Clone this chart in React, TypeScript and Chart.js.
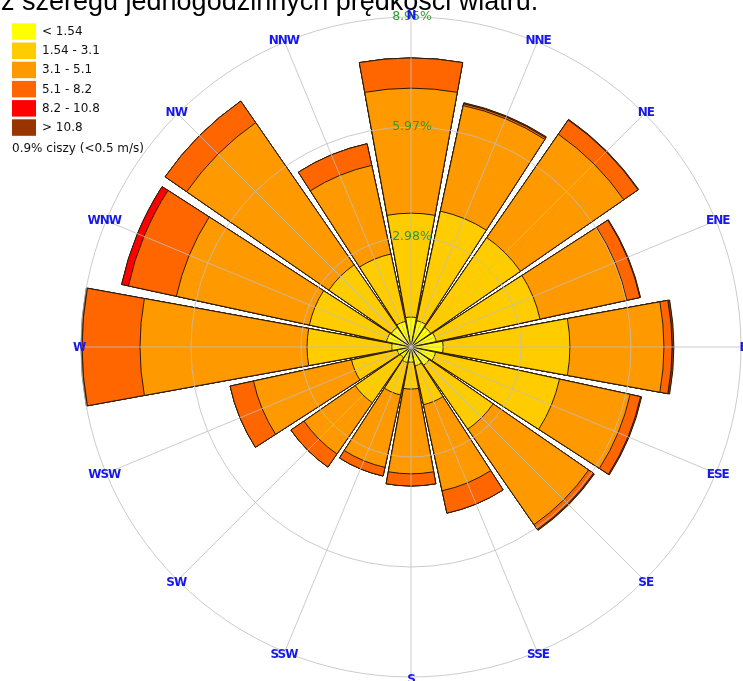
import { useEffect, useRef } from "react";
import { Chart, registerables } from "chart.js";

Chart.register(...registerables);

const TITLE = "z szeregu jednogodzinnych prędkości wiatru.";
const DIRECTIONS = ["N", "NNE", "NE", "ENE", "E", "ESE", "SE", "SSE", "S", "SSW", "SW", "WSW", "W", "WNW", "NW", "NNW"];
const SPEED_CLASSES = ["< 1.54", "1.54 - 3.1", "3.1 - 5.1", "5.1 - 8.2", "8.2 - 10.8", "> 10.8"];
const CLASS_COLORS = ["#FFFF00", "#FFCC00", "#FF9900", "#FF6600", "#FF0000", "#993300"];

// frequency (%) per direction, one array per wind speed class (m/s)
const FREQ_LT_154 = [0.81, 0.73, 0.65, 0.70, 0.87, 0.68, 0.60, 0.52, 0.41, 0.43, 0.35, 0.38, 0.52, 0.68, 0.65, 0.71];
const FREQ_154_31 = [2.82, 3.04, 2.96, 2.88, 3.44, 3.44, 2.11, 1.08, 0.73, 0.90, 1.49, 1.27, 2.30, 2.14, 2.06, 1.87];
const FREQ_31_51 = [3.39, 2.93, 3.41, 2.41, 2.55, 1.96, 3.15, 2.39, 2.30, 2.01, 1.69, 2.72, 4.53, 3.69, 4.69, 2.46];
const FREQ_51_82 = [0.82, 0.05, 0.47, 0.36, 0.22, 0.29, 0.16, 0.62, 0.33, 0.24, 0.43, 0.65, 1.57, 1.33, 0.71, 0.60];
const FREQ_82_108 = [0, 0, 0, 0, 0, 0, 0, 0, 0, 0, 0, 0, 0, 0.19, 0, 0];
const FREQ_GT_108 = [0, 0.03, 0.02, 0.02, 0.05, 0.03, 0.03, 0, 0, 0, 0, 0, 0.03, 0, 0, 0];

const CALM_TEXT = "0.9% ciszy (<0.5 m/s)";
const RING_VALUES = [2.9833, 5.9667, 8.95];
const RING_LABELS = ["2.98%", "5.97%", "8.95%"];
const R_MAX = 8.95;

const WEDGE_DEG = 20.6;
const GAP_DEG = 22.5 - WEDGE_DEG;

const CLASSES = [FREQ_LT_154, FREQ_154_31, FREQ_31_51, FREQ_51_82, FREQ_82_108, FREQ_GT_108];

const roseOverlay = {
  id: "roseOverlay",
  afterDraw(chart: any) {
    const ctx: CanvasRenderingContext2D = chart.ctx;
    const scale = chart.scales.r;
    const cx = scale.xCenter;
    const cy = scale.yCenter;
    const rMax = scale.getDistanceFromCenterForValue(R_MAX);
    ctx.save();

    // grid rings and angle lines (drawn over the wedges)
    ctx.strokeStyle = "rgba(190,190,190,0.8)";
    ctx.lineWidth = 1;
    RING_VALUES.forEach((v) => {
      const r = scale.getDistanceFromCenterForValue(v);
      ctx.beginPath();
      ctx.arc(cx, cy, r, 0, Math.PI * 2);
      ctx.stroke();
    });
    DIRECTIONS.forEach((_, i) => {
      const a = ((i * 360) / DIRECTIONS.length - 90) * (Math.PI / 180);
      ctx.beginPath();
      ctx.moveTo(cx, cy);
      ctx.lineTo(cx + rMax * Math.cos(a), cy + rMax * Math.sin(a));
      ctx.stroke();
    });

    // ring labels
    ctx.textAlign = "center";
    ctx.textBaseline = "middle";
    ctx.font = '12.5px "DejaVu Sans", sans-serif';
    ctx.fillStyle = "#2f9a2f";
    RING_VALUES.forEach((v, i) => {
      const r = scale.getDistanceFromCenterForValue(v);
      ctx.fillText(RING_LABELS[i], cx + 1, cy - r);
    });

    // direction labels
    ctx.font = 'bold 12px "DejaVu Sans", sans-serif';
    (ctx as any).letterSpacing = "-1px";
    ctx.fillStyle = "#1818ee";
    DIRECTIONS.forEach((d, i) => {
      const a = ((i * 360) / DIRECTIONS.length - 90) * (Math.PI / 180);
      const r = rMax + 2;
      ctx.fillText(d, cx + r * Math.cos(a), cy + r * Math.sin(a) + 1);
    });
    (ctx as any).letterSpacing = "0px";

    // legend
    ctx.textAlign = "left";
    ctx.font = '12px "DejaVu Sans", sans-serif';
    SPEED_CLASSES.forEach((label, k) => {
      const top = 23.3 + k * 19.2;
      ctx.fillStyle = CLASS_COLORS[k];
      ctx.fillRect(12, top, 24, 16.5);
      ctx.fillStyle = "#111";
      ctx.fillText(label, 42, top + 8.5);
    });
    ctx.fillText(CALM_TEXT, 12, 149);

    // title (cropped at top)
    ctx.textBaseline = "alphabetic";
    ctx.font = '27px "Liberation Sans", Arial, sans-serif';
    ctx.fillStyle = "#000";
    ctx.fillText(TITLE, 1, 10);

    ctx.restore();
  },
};

export default function App() {
  const canvasRef = useRef<HTMLCanvasElement | null>(null);

  useEffect(() => {
    if (!canvasRef.current) return;
    const cumulative = CLASSES.map((_, k) =>
      DIRECTIONS.map((_, i) => CLASSES.slice(0, k + 1).reduce((s, arr) => s + arr[i], 0))
    );
    const labels = DIRECTIONS.flatMap((d) => [d, ""]);
    const datasets = cumulative.map((cum, k) => ({
      label: SPEED_CLASSES[k],
      data: cum.flatMap((v) => [v, 0]),
      backgroundColor: (c: any) => (c.dataIndex % 2 === 0 ? CLASS_COLORS[k] : "rgba(0,0,0,0)"),
      borderColor: "#2a1b06",
      borderWidth: (c: any) => (c.dataIndex % 2 === 0 ? 1 : 0),
      angle: (c: any) => (c.dataIndex % 2 === 0 ? WEDGE_DEG : GAP_DEG),
    }));

    const chart = new Chart(canvasRef.current, {
      type: "polarArea",
      data: { labels, datasets: datasets as any },
      options: {
        animation: false,
        responsive: true,
        maintainAspectRatio: false,
        layout: { padding: { left: 81, right: 2, top: 17, bottom: 4 } },
        plugins: {
          legend: { display: false },
          tooltip: { enabled: false },
          title: { display: false },
        },
        scales: {
          r: {
            min: 0,
            max: R_MAX,
            startAngle: -WEDGE_DEG / 2,
            grid: { display: false },
            angleLines: { display: false },
            pointLabels: { display: false },
            ticks: { display: false },
          },
        },
      } as any,
      plugins: [roseOverlay],
    });
    return () => chart.destroy();
  }, []);

  return (
    <div style={{ position: "fixed", left: 0, top: 0, width: 743, height: 681, background: "#fff" }}>
      <canvas ref={canvasRef} />
    </div>
  );
}
